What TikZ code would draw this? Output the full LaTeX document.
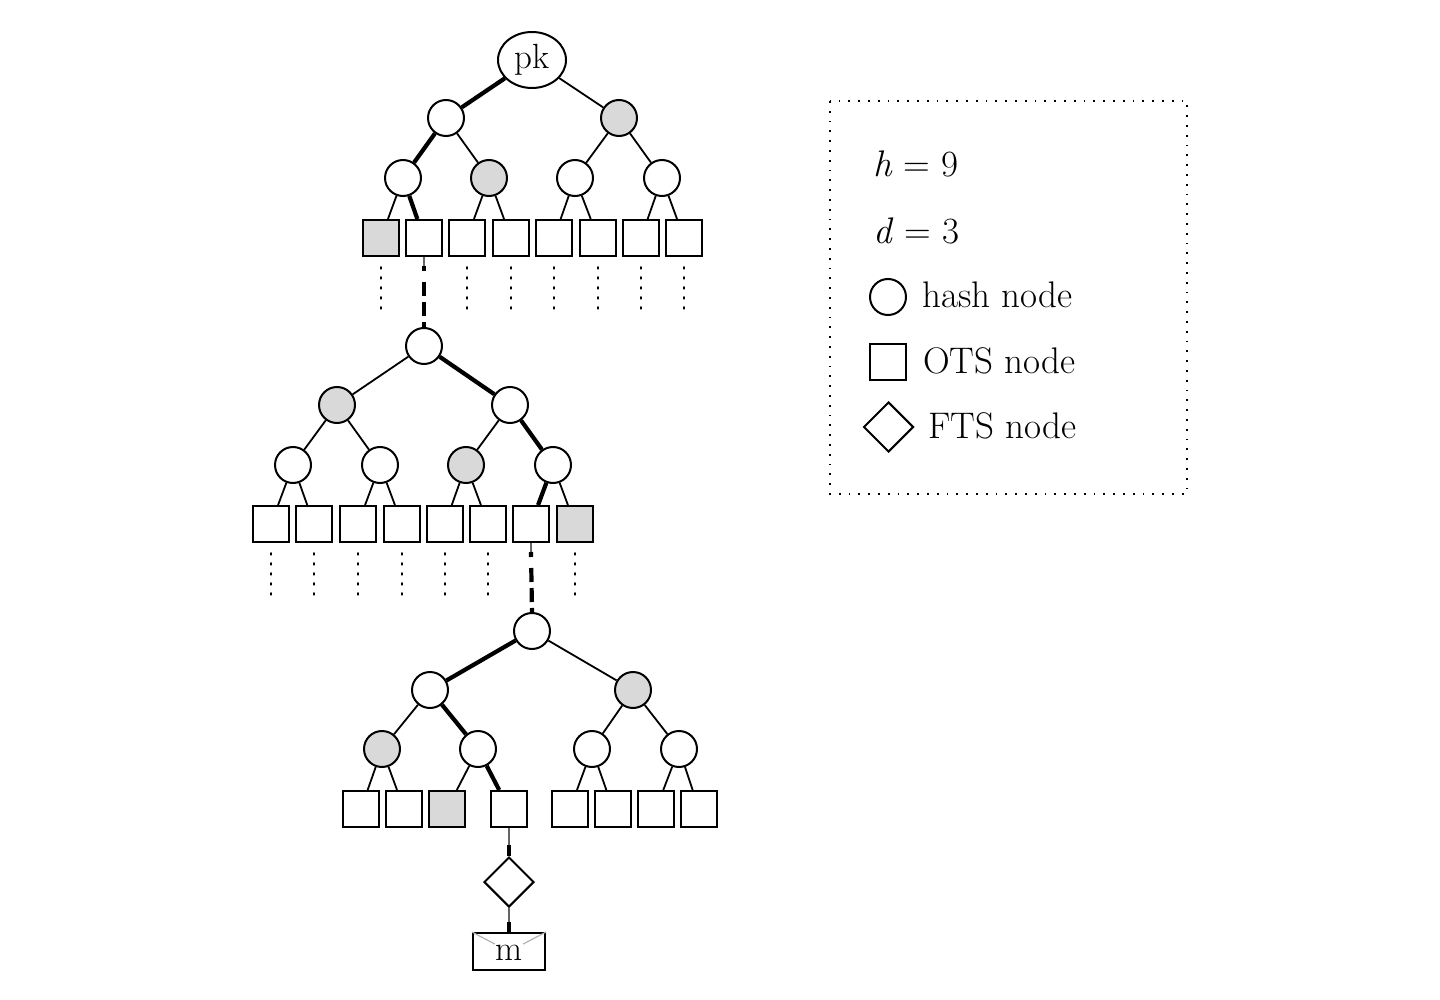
\documentclass[tikz,border=0pt]{standalone}
\usetikzlibrary{shapes.geometric,calc}
\definecolor{gry}{RGB}{217,217,217}
\tikzset{
  hash/.style={circle, draw, line width=2pt, minimum size=36pt, inner sep=0pt, fill=white},
  hashg/.style={hash, fill=gry},
  ots/.style={rectangle, draw, line width=2pt, minimum size=36pt, inner sep=0pt, fill=white},
  otsg/.style={ots, fill=gry},
  fts/.style={diamond, draw, line width=2pt, minimum width=50pt, minimum height=50pt, inner sep=0pt, fill=white},
  edge/.style={line width=1.8pt},
  auth/.style={line width=4.2pt},
  dotline/.style={line width=1.8pt, dash pattern=on 1.8pt off 8.2pt, line cap=round},
  linkthin/.style={line width=1.5pt, black!60},
  linkthick/.style={line width=4.2pt, dash pattern=on 5pt off 11pt on 14pt off 6pt on 14pt off 6pt on 14pt off 20pt},
  legendbox/.style={line width=1.8pt, dash pattern=on 1.8pt off 8pt},
  txt/.style={anchor=base west, inner sep=0pt, font=\fontsize{37pt}{44pt}\selectfont},
}
\begin{document}
\begin{tikzpicture}[x=1pt,y=-1pt]
\useasboundingbox (0,0) rectangle (1440,1000);
% ---------- Tree 1
\node[ellipse, draw, line width=2pt, minimum width=68pt, minimum height=56pt, inner sep=0pt, font=\fontsize{35pt}{40pt}\selectfont] (pk) at (532,60) {pk};
\node[hash]  (a1) at (446,118) {};
\node[hashg] (a2) at (619,118) {};
\node[hash]  (a11) at (403,178) {};
\node[hashg] (a12) at (489,178) {};
\node[hash]  (a21) at (575,178) {};
\node[hash]  (a22) at (662,178) {};
\node[otsg] (a111) at (381,238) {};
\node[ots]  (a112) at (424,238) {};
\node[ots]  (a121) at (467,238) {};
\node[ots]  (a122) at (511,238) {};
\node[ots]  (a211) at (554,238) {};
\node[ots]  (a212) at (598,238) {};
\node[ots]  (a221) at (641,238) {};
\node[ots]  (a222) at (684,238) {};
\draw[auth] (pk) -- (a1);
\draw[edge] (pk) -- (a2);
\draw[auth] (a1) -- (a11);
\draw[edge] (a1) -- (a12);
\draw[edge] (a2) -- (a21);
\draw[edge] (a2) -- (a22);
\draw[edge] (a11) -- (a111);
\draw[auth] (a11) -- (a112);
\draw[edge] (a12) -- (a121);
\draw[edge] (a12) -- (a122);
\draw[edge] (a21) -- (a211);
\draw[edge] (a21) -- (a212);
\draw[edge] (a22) -- (a221);
\draw[edge] (a22) -- (a222);
\foreach \n in {a111,a121,a122,a211,a212,a221,a222}
  \draw[dotline] ($(\n.south)+(0,10)$) -- ++(0,44);
% ---------- Tree 2
\node[hash]  (b) at (424,346) {};
\node[hashg] (b1) at (337,405) {};
\node[hash]  (b2) at (510,405) {};
\node[hash]  (b11) at (293,465) {};
\node[hash]  (b12) at (380,465) {};
\node[hashg] (b21) at (466,465) {};
\node[hash]  (b22) at (553,465) {};
\node[ots]  (b111) at (271,524) {};
\node[ots]  (b112) at (314,524) {};
\node[ots]  (b121) at (358,524) {};
\node[ots]  (b122) at (402,524) {};
\node[ots]  (b211) at (445,524) {};
\node[ots]  (b212) at (488,524) {};
\node[ots]  (b221) at (531,524) {};
\node[otsg] (b222) at (575,524) {};
\draw[edge] (b) -- (b1);
\draw[auth] (b) -- (b2);
\draw[edge] (b1) -- (b11);
\draw[edge] (b1) -- (b12);
\draw[edge] (b2) -- (b21);
\draw[auth] (b2) -- (b22);
\draw[edge] (b11) -- (b111);
\draw[edge] (b11) -- (b112);
\draw[edge] (b12) -- (b121);
\draw[edge] (b12) -- (b122);
\draw[edge] (b21) -- (b211);
\draw[edge] (b21) -- (b212);
\draw[auth] (b22) -- (b221);
\draw[edge] (b22) -- (b222);
\foreach \n in {b111,b112,b121,b122,b211,b212,b222}
  \draw[dotline] ($(\n.south)+(0,10)$) -- ++(0,44);
% ---------- Tree 3
\node[hash]  (c) at (532,631) {};
\node[hash]  (c1) at (430,690) {};
\node[hashg] (c2) at (633,690) {};
\node[hashg] (c11) at (382,749) {};
\node[hash]  (c12) at (478,749) {};
\node[hash]  (c21) at (592,749) {};
\node[hash]  (c22) at (679,749) {};
\node[ots]  (c111) at (361,809) {};
\node[ots]  (c112) at (404,809) {};
\node[otsg] (c121) at (447,809) {};
\node[ots]  (c122) at (509,809) {};
\node[ots]  (c211) at (570,809) {};
\node[ots]  (c212) at (613,809) {};
\node[ots]  (c221) at (656,809) {};
\node[ots]  (c222) at (699,809) {};
\draw[auth] (c) -- (c1);
\draw[edge] (c) -- (c2);
\draw[edge] (c1) -- (c11);
\draw[auth] (c1) -- (c12);
\draw[edge] (c2) -- (c21);
\draw[edge] (c2) -- (c22);
\draw[edge] (c11) -- (c111);
\draw[edge] (c11) -- (c112);
\draw[edge] (c12) -- (c121);
\draw[auth] (c12) -- (c122);
\draw[edge] (c21) -- (c211);
\draw[edge] (c21) -- (c212);
\draw[edge] (c22) -- (c221);
\draw[edge] (c22) -- (c222);
% ---------- FTS and message
\node[fts] (f) at (509,882) {};
\node[draw, line width=2pt, minimum width=72pt, minimum height=37pt, inner sep=0pt] (env) at (509,951.5) {};
\draw[gray!60, line width=1.2pt] (env.north west) -- ($(env.north west)!0.62!(env.center)$);
\draw[gray!60, line width=1.2pt] (env.north east) -- ($(env.north east)!0.62!(env.center)$);
\node[anchor=base, inner sep=0pt, font=\fontsize{35pt}{40pt}\selectfont] (mt) at (509,960) {m};
% ---------- links between layers
\draw[linkthin] (a112.south) -- ($(a112.south)+(0,10)$);
\draw[linkthick] ($(a112.south)+(0,9)$) -- (b.north);
\draw[linkthin] (b221.south) -- ($(b221.south)+(0,10)$);
\draw[linkthick] ($(b221.south)+(0,9)$) -- (c.north);
\draw[linkthin] (c122) -- (f);
\draw[auth] ($(c122.south)!0.6!(f.north)$) -- (f.north);
\draw[linkthin] (f) -- (env);
\draw[auth] ($(f.south)!0.58!(env.north)$) -- (env.north);
% ---------- legend
\draw[legendbox] (830,101) rectangle (1187,494);
\node[txt] (th) at (873,177) {\textit{h} = 9};
\node[txt] (td) at (873,244) {\textit{d} = 3};
\node[hash] (lh) at (888,297) {};
\node[txt] (tl1) at (922,308) {hash node};
\node[ots] (lo) at (888,362) {};
\node[txt] (tl2) at (923,373) {OTS node};
\node[fts] (lf) at (888.5,427) {};
\node[txt] (tl3) at (928,438) {FTS node};
\end{tikzpicture}
\end{document}
